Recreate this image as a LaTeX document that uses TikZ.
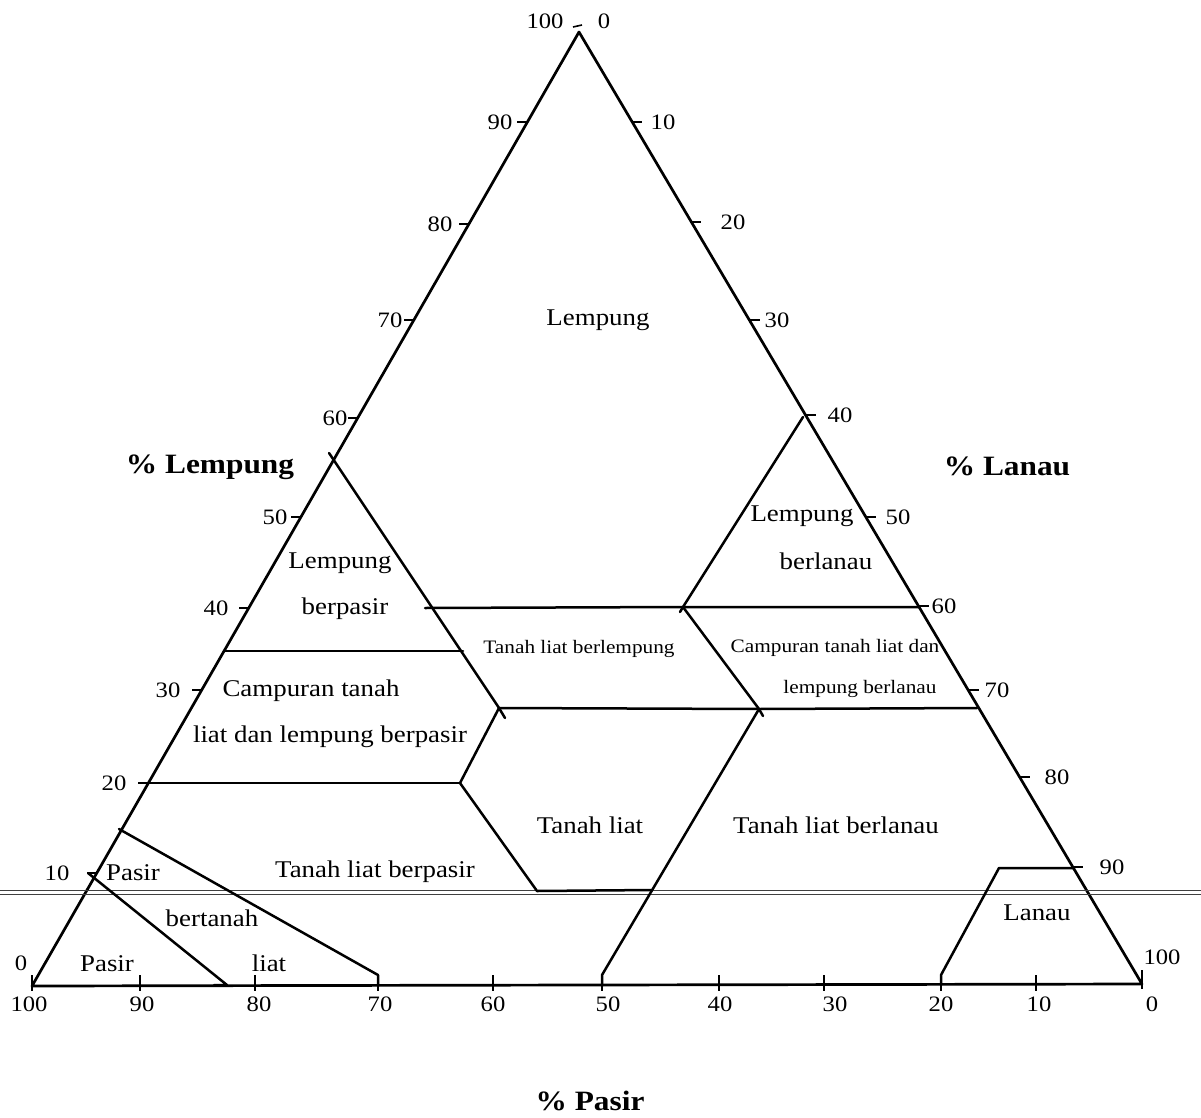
\documentclass[tikz,border=0pt]{standalone}
\usepackage{fontspec}
\setmainfont[FakeStretch=1.12]{Liberation Serif}
\begin{document}
\begin{tikzpicture}[x=1pt,y=-1pt,
  sideline/.style={line width=2.7pt, line join=round, line cap=round},
  bound/.style={line width=2.5pt, line join=round, line cap=round},
  tk/.style={line width=1.6pt},
  scanline/.style={line width=1.2pt, black!75},
  num/.style={font=\fontsize{22}{24}\selectfont, inner sep=0pt},
  lab/.style={font=\fontsize{24}{26}\selectfont, inner sep=0pt},
  smalllab/.style={font=\fontsize{19}{21}\selectfont, inner sep=0pt},
  axlab/.style={font=\fontsize{28}{30}\selectfont\bfseries, inner sep=0pt}]
\useasboundingbox[fill=white] (0,0) rectangle (1201,1118);

% vertices
\coordinate (BL) at (32,986);
\coordinate (BR) at (1142,984);
\coordinate (T) at (579,32);
\draw[sideline] (BL) -- (T) -- (BR) -- cycle;

% scan lines
\coordinate (sA1) at (0,890.5); \coordinate (sA2) at (1201,890.5);
\coordinate (sB1) at (0,894.5); \coordinate (sB2) at (1201,894.5);
\draw[scanline] (sA1) -- (sA2);
\draw[scanline] (sB1) -- (sB2);

% region boundaries
\coordinate (sc1) at (329,453);
\coordinate (J1) at (499,708);
\coordinate (sc2) at (505,718);
\draw[bound] (sc1) -- (J1) -- (sc2);

\coordinate (h40a) at (425,608);
\coordinate (J2) at (683,607);
\coordinate (h40b) at (919,607);
\draw[bound] (h40a) -- (J2) -- (h40b);

\coordinate (sic) at (803,417);
\coordinate (sicS) at (680,612);
\draw[bound] (sic) -- (J2) -- (sicS);

\coordinate (J3) at (759,709);
\coordinate (J3s) at (763,716);
\draw[bound] (J2) -- (J3) -- (J3s);

\coordinate (h35a) at (224,651);
\coordinate (J4) at (463,651);
\draw[bound] (h35a) -- (J4);

\coordinate (h27b) at (977,708);
\draw[bound] (J1) -- (J3) -- (h27b);

\coordinate (J5) at (460,783);
\coordinate (h20a) at (148,783);
\draw[bound] (J1) -- (J5);
\draw[bound] (h20a) -- (J5);

\coordinate (J6) at (537,891);
\coordinate (J7) at (652,890);
\draw[bound] (J5) -- (J6) -- (J7);

\coordinate (S50) at (602,975);
\coordinate (B50) at (602,986);
\draw[bound] (J3) -- (S50) -- (B50);

\coordinate (SL1) at (119,829);
\coordinate (SL2) at (378,975);
\coordinate (B70) at (378,986);
\draw[bound] (SL1) -- (SL2) -- (B70);

\coordinate (LS1) at (88,873);
\coordinate (LS2) at (227,985);
\coordinate (LS3) at (214,985);
\draw[bound] (LS1) -- (LS2) -- (LS3);

\coordinate (B20) at (941,985);
\coordinate (SI1) at (941,975);
\coordinate (SI2) at (999,868);
\coordinate (SI3) at (1074,868);
\draw[bound] (B20) -- (SI1) -- (SI2) -- (SI3);

% left axis ticks and labels
\foreach \yy/\lx/\v in {122/500/90, 224/440/80, 320/390/70, 418/335/60, 517/275/50, 608/216/40, 690/168/30, 783/114/20, 873/57/10}{
  \pgfmathsetmacro\ex{32+(986-\yy)*0.57338}
  \coordinate (lt\v) at (\ex,\yy);
  \coordinate (ltb\v) at (\ex-10,\yy);
  \draw[tk] (lt\v) -- (ltb\v);
  \node[num] (ln\v) at (\lx,\yy) {\v};
}
\node[num] (ln0) at (21,963) {0};

% right axis ticks and labels
\foreach \yy/\lx/\v in {122/663/10, 222/733/20, 320/777/30, 415/840/40, 517/898/50, 606/944/60, 690/997/70, 777/1057/80, 867/1112/90}{
  \pgfmathsetmacro\ex{579+(\yy-32)*0.59201}
  \coordinate (rt\v) at (\ex,\yy);
  \coordinate (rtb\v) at (\ex+10,\yy);
  \draw[tk] (rt\v) -- (rtb\v);
  \node[num] (rn\v) at (\lx,\yy) {\v};
}
\node[num] (rn100) at (1162,957) {100};

% top labels
\coordinate (tt1) at (573,27);
\coordinate (tt2) at (582,25);
\draw[tk] (tt1) -- (tt2);
\node[num] (top100) at (545,21) {100};
\node[num] (top0) at (604,21) {0};

% bottom ticks and labels
\foreach \xx in {32,140,255,378,493,602,719,824,941,1036}{
  \coordinate (bt\xx) at (\xx,975);
  \coordinate (bb\xx) at (\xx,991);
  \draw[tk] (bt\xx) -- (bb\xx);
}
\coordinate (bt1142) at (1142,970);
\coordinate (bb1142) at (1142,989);
\draw[tk] (bt1142) -- (bb1142);
\foreach \xx/\v in {29/100, 142/90, 259/80, 380/70, 493/60, 608/50, 720/40, 835/30, 941/20, 1039/10, 1152/0}{
  \node[num] (bn\v) at (\xx,1004) {\v};
}

% axis titles
\node[axlab] (axL) at (210,467) {\% Lempung};
\node[axlab] (axR) at (1007,466) {\% Lanau};
\node[axlab] (axB) at (590,1101) {\% Pasir};

% region labels
\node[lab] (rClay) at (598,320) {Lempung};
\node[lab] (rSC1) at (340,563) {Lempung};
\node[lab] (rSC2) at (345,609) {berpasir};
\node[lab] (rSiC1) at (802,516) {Lempung};
\node[lab] (rSiC2) at (826,561) {berlanau};
\node[smalllab] (rCL) at (579,649) {Tanah liat berlempung};
\node[smalllab] (rSiCL1) at (835,648) {Campuran tanah liat dan};
\node[smalllab] (rSiCL2) at (860,689) {lempung berlanau};
\node[lab] (rSCL1) at (311,691) {Campuran tanah};
\node[lab] (rSCL2) at (330,737) {liat dan lempung berpasir};
\node[lab] (rL) at (590,825) {Tanah liat};
\node[lab] (rSiL) at (836,825) {Tanah liat berlanau};
\node[lab] (rSL) at (375,872) {Tanah liat berpasir};
\node[lab] (rLS1) at (133,873) {Pasir};
\node[lab] (rLS2) at (212,918) {bertanah};
\node[lab] (rS) at (107,964) {Pasir};
\node[lab] (rLS3) at (269,963) {liat};
\node[lab] (rSi) at (1037,913) {Lanau};
\end{tikzpicture}
\end{document}
